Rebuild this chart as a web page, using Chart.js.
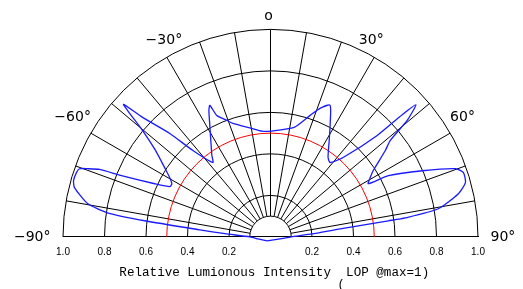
<!DOCTYPE html>
<html>
<head>
<meta charset="utf-8">
<script src="https://cdn.jsdelivr.net/npm/chart.js@4.4.1/dist/chart.umd.min.js"></script>
<style>
html, body { margin: 0; padding: 0; background: #fff; }
#wrap { width: 523px; height: 289px; }
</style>
</head>
<body>
<div id="wrap"><canvas id="chart" width="523" height="289"></canvas></div>
<script>
// Polar light distribution: angle (deg, 0 = up) and relative intensity
const angleDeg = [
    -139, -99, -90, -86, -84.3, -82.7, -81.6, -79.7, -75.9, -74.1, -71.7, -70.4, -69.6, -68.5, -67.7,
    -65.4, -63.5, -61.7, -59.6, -57.0, -53.1, -50.3, -48.8, -48.0, -47.0, -44.3, -42.0, -37.8,
    -35.8, -31.8, -28.6, -26.0, -24.8, -23.9, -20.6, -18.4, -10, -4.6, 0,
    12.2, 18.1, 21.1, 24.4, 27.8, 31.4, 36.0, 38.8, 42.5, 46.5, 47.2, 47.8, 49.6, 51.2, 53.1,
    57.2, 59.3, 61.5, 62.6, 66.5, 69.8, 71.6, 74.5, 77.1, 80.5, 82.0, 82.25, 83.4, 86, 90, 101.9, 221
];
const intensity = [
    0.026, 0.061, 0.099, 0.22, 0.342, 0.611, 0.794, 0.896, 0.974, 0.987, 0.985, 0.977, 0.941, 0.885, 0.776,
    0.614, 0.542, 0.540, 0.563, 0.607, 0.693, 0.801, 0.902, 0.953, 0.843, 0.695, 0.559, 0.453,
    0.483, 0.546, 0.611, 0.677, 0.697, 0.639, 0.599, 0.575, 0.530, 0.510, 0.509,
    0.539, 0.615, 0.663, 0.695, 0.617, 0.543, 0.472, 0.459, 0.518, 0.709, 0.867, 0.946, 0.865, 0.741, 0.692,
    0.589, 0.559, 0.536, 0.640, 0.798, 0.950, 0.980, 0.975, 0.929, 0.820, 0.656, 0.573, 0.338, 0.20, 0.099, 0.047, 0.026
];

const ringLevels = [0.2, 0.4, 0.6, 0.8, 1.0];
const hubLevel = 0.1;
const refLevel = 0.5; // red reference circle
const spokeAngles = [-80, -70, -60, -50, -40, -30, -20, -10, 0, 10, 20, 30, 40, 50, 60, 70, 80];
const labelAngles = [-90, -60, -30, 0, 30, 60, 90];
const labelTexts = ["\u221290\u00b0", "\u221260\u00b0", "\u221230\u00b0", "o", "30\u00b0", "60\u00b0", "90\u00b0"];
const axisTitle = " Relative Lumionous Intensity  LOP @max=1)";

function toXY(deg, r){
    const t = deg * Math.PI / 180;
    return {x: r * Math.sin(t), y: r * Math.cos(t)};
}

const curve = angleDeg.map((a, i) => toXY(a, intensity[i]));

const polarGrid = {
    id: "polarGrid",
    beforeDatasetsDraw(chart){
        const ctx = chart.ctx;
        const xs = chart.scales.x, ys = chart.scales.y;
        const cx = xs.getPixelForValue(0), cy = ys.getPixelForValue(0);
        const rad = v => xs.getPixelForValue(v) - cx;

        ctx.save();
        ctx.strokeStyle = "#000";
        ctx.lineWidth = 1;

        [hubLevel, ...ringLevels].forEach(r => {
            ctx.beginPath();
            ctx.arc(cx, cy, rad(r), Math.PI, 2 * Math.PI);
            ctx.stroke();
        });

        spokeAngles.forEach(a => {
            const t = a * Math.PI / 180;
            ctx.beginPath();
            ctx.moveTo(cx + rad(hubLevel) * Math.sin(t), cy - rad(hubLevel) * Math.cos(t));
            ctx.lineTo(cx + rad(1) * Math.sin(t), cy - rad(1) * Math.cos(t));
            ctx.stroke();
        });

        ctx.strokeStyle = "#ff0000";
        ctx.beginPath();
        ctx.arc(cx, cy, rad(refLevel), Math.PI, 2 * Math.PI);
        ctx.stroke();

        /* angle labels round the outer ring: left ones end at the anchor, right ones start there */
        ctx.fillStyle = "#000";
        ctx.font = "14px 'DejaVu Sans'";
        ctx.textBaseline = "middle";
        labelAngles.forEach((a, i) => {
            const t0 = a * Math.PI / 180;
            const s = Math.sin(t0);
            if(a === 0){
                ctx.textAlign = "center";
                ctx.fillText(labelTexts[i], cx - 2, cy - rad(1) - 13.5);
                return;
            }
            const shift = 6.5 * Math.pow(Math.max(Math.cos(t0), 0), 0.8);
            const t = t0 - Math.sign(a) * shift * Math.PI / 180;
            const d = rad(1) + 8 + 4.5 * Math.pow(s, 16);
            ctx.textAlign = a < 0 ? "right" : "left";
            ctx.fillText(labelTexts[i], cx + d * Math.sin(t), cy - d * Math.cos(t));
        });

        ctx.restore();
    },
    afterDraw(chart){
        // the stray bracket under the axis title
        const ctx = chart.ctx;
        const cx = chart.scales.x.getPixelForValue(0);
        ctx.save();
        ctx.fillStyle = "#000";
        ctx.font = "12px 'Liberation Mono'";
        ctx.textAlign = "left";
        ctx.textBaseline = "top";
        ctx.fillText("(", cx + 67, chart.height - 10);
        ctx.restore();
    }
};

new Chart(document.getElementById("chart").getContext("2d"), {
    type: "scatter",
    data: {
        datasets: [{
            data: curve,
            showLine: true,
            borderColor: "#1a1aff",
            borderWidth: 1.3,
            pointRadius: 0,
            tension: 0.2,
            fill: false,
            clip: 12
        }]
    },
    options: {
        responsive: false,
        animation: false,
        layout: {
            padding: {left: 63, right: 45, top: 29, bottom: 5}
        },
        plugins: {
            legend: {display: false},
            tooltip: {enabled: false}
        },
        scales: {
            x: {
                type: "linear",
                min: -1,
                max: 1,
                grid: {display: false, drawTicks: false},
                border: {display: true, color: "#000", width: 1},
                ticks: {
                    stepSize: 0.2,
                    padding: 9,
                    color: "#000",
                    font: {family: "'Liberation Sans'", size: 10},
                    maxRotation: 0,
                    autoSkip: false,
                    callback: v => Math.abs(v) < 1e-6 ? "" : Math.abs(v).toFixed(1)
                },
                title: {
                    display: true,
                    text: axisTitle,
                    color: "#000",
                    font: {family: "'Liberation Mono'", size: 12.6},
                    padding: {top: -2, bottom: 4}
                }
            },
            y: {
                type: "linear",
                min: 0,
                max: 1,
                display: false
            }
        }
    },
    plugins: [polarGrid]
});
</script>
</body>
</html>
